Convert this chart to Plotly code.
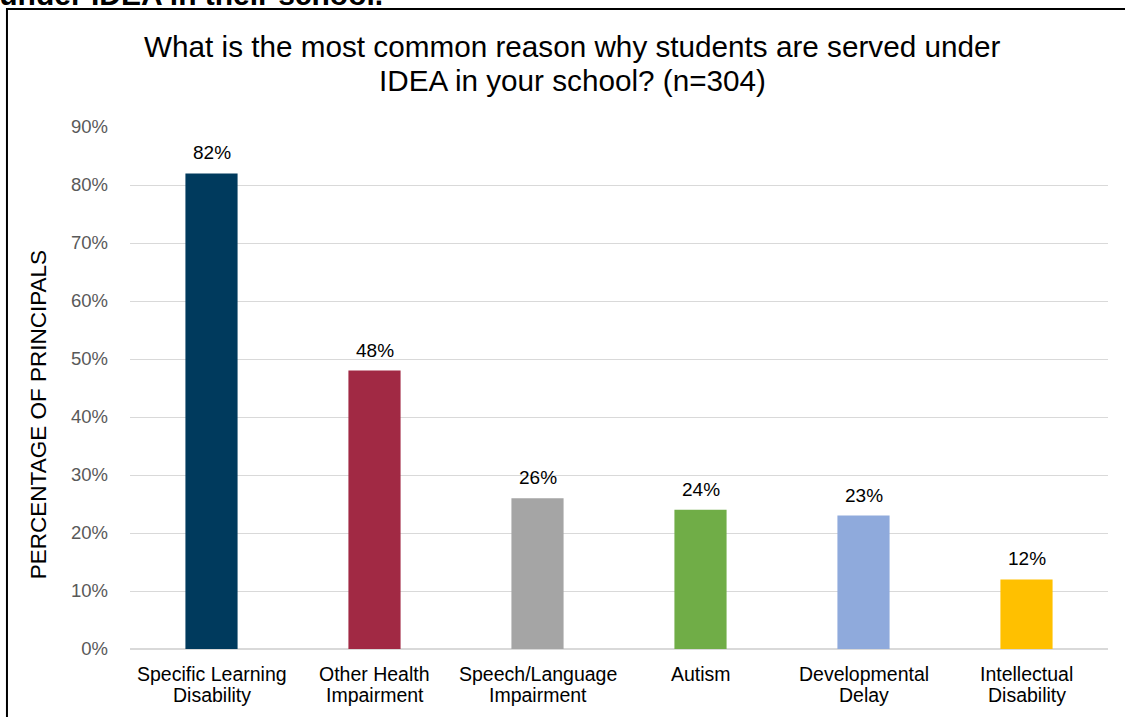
import plotly.graph_objects as go

categories = [
    "Specific Learning<br>Disability",
    "Other Health<br>Impairment",
    "Speech/Language<br>Impairment",
    "Autism",
    "Developmental<br>Delay",
    "Intellectual<br>Disability",
]
shares = [0.82, 0.48, 0.26, 0.24, 0.23, 0.12]
bar_colors = ["#003A5D", "#A12944", "#A5A5A5", "#70AD47", "#8FAADC", "#FFC000"]
tick_vals = [0, 0.1, 0.2, 0.3, 0.4, 0.5, 0.6, 0.7, 0.8, 0.9]
title_lines = [
    "What is the most common reason why students are served under",
    "IDEA in your school? (n=304)",
]

font_family = "Liberation Sans, Arial, sans-serif"

fig = go.Figure()
fig.add_trace(
    go.Bar(
        x=categories,
        y=shares,
        marker=dict(color=bar_colors, line=dict(width=0)),
        width=0.32,
        hoverinfo="skip",
    )
)

# value labels above bars
for cat, val in zip(categories, shares):
    fig.add_annotation(
        x=cat,
        y=val,
        text=f"{round(val * 100)}%",
        showarrow=False,
        xanchor="center",
        yanchor="bottom",
        yshift=8,
        font=dict(size=19, color="#000000", family=font_family),
    )

# category labels, one annotation per line so the line spacing stays tight
for cat in categories:
    for i, part in enumerate(cat.split("<br>")):
        fig.add_annotation(
            x=cat,
            y=0,
            yref="paper",
            text=part,
            showarrow=False,
            xanchor="center",
            yanchor="middle",
            yshift=-25 - 21 * i,
            font=dict(size=19.5, color="#000000", family=font_family),
        )

# chart title (two lines)
for y_pos, line in zip([1.1533, 1.0900], title_lines):
    fig.add_annotation(
        x=0.452,
        y=y_pos,
        xref="paper",
        yref="paper",
        text=line,
        showarrow=False,
        xanchor="center",
        yanchor="middle",
        font=dict(size=29.7, color="#000000", family=font_family),
    )

# axis label placed like the original
fig.add_annotation(
    x=-0.094,
    y=0.448,
    xref="paper",
    yref="paper",
    text="PERCENTAGE OF PRINCIPALS",
    showarrow=False,
    textangle=-90,
    xanchor="center",
    yanchor="middle",
    font=dict(size=22.5, color="#000000", family=font_family),
)

# cut-off heading from the page above the chart
fig.add_annotation(
    x=0.261,
    y=1.2182,
    xref="paper",
    yref="paper",
    text="<b>Figure 12. Most common reason students are served under IDEA in their school.</b>",
    showarrow=False,
    xanchor="right",
    yanchor="bottom",
    font=dict(size=30, color="#000000", family=font_family),
)

# chart frame
fig.add_shape(
    type="rect",
    xref="paper",
    yref="paper",
    x0=-0.1258,
    x1=1.2,
    y0=-0.3,
    y1=1.226,
    line=dict(color="#000000", width=2),
    layer="below",
)

fig.update_layout(
    width=1125,
    height=717,
    margin=dict(l=130, r=17, t=127, b=68),
    paper_bgcolor="white",
    plot_bgcolor="white",
    showlegend=False,
    font=dict(family=font_family, color="#000000"),
    bargap=0.68,
)
fig.update_xaxes(
    showticklabels=False,
    showgrid=False,
    showline=False,
    ticks="",
)
fig.update_yaxes(
    range=[0, 0.9],
    tickvals=tick_vals,
    tickformat=".0%",
    tickfont=dict(size=18.5, color="#595959"),
    showgrid=True,
    gridcolor="#D9D9D9",
    gridwidth=1,
    zeroline=True,
    zerolinecolor="#D9D9D9",
    zerolinewidth=1.5,
    ticks="",
    ticklabelstandoff=21,
)

fig.write_html(
    "out.html",
    config={"displayModeBar": False},
    post_script="document.body.style.margin = '0';",
)
